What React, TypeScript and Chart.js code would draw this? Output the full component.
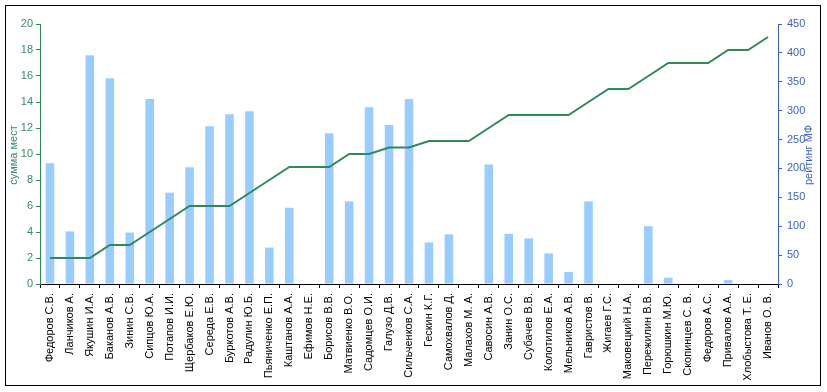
import React, { useEffect, useRef } from "react";
import { Chart, registerables } from "chart.js";
Chart.register(...registerables);

const names: string[] = [
  "Федоров С.В.", "Ланчиков А.", "Якушин И.А.", "Баканов А.В.", "Зинин С.В.",
  "Сипцов Ю.А.", "Потапов И.И.", "Щербаков Е.Ю.", "Середа Е.В.", "Буркотов А.В.",
  "Радулин Ю.Б.", "Пьяниченко Е.П.", "Каштанов А.А.", "Ефимов Н.Е.", "Борисов В.В.",
  "Матвиенко В.О.", "Садомцев О.И.", "Галузо Д.В.", "Сильченков С.А.", "Гескин К.Г.",
  "Самохвалов Д.", "Малахов М. А.", "Савосин А.В.", "Занин О.С.", "Субачев В.В.",
  "Колотилов Е.А.", "Мельников А.В.", "Гавристов В.", "Жигаев Г.С.", "Маковецкий Н.А.",
  "Пережилин В.В.", "Горюшкин М.Ю.", "Скопинцев С. В.", "Федоров А.С.", "Привалов А.А.",
  "Хлобыстова Т. Е.", "Иванов О. В.",
];

const ratingMF: number[] = [
  209, 91, 396, 356, 89, 320, 158, 202, 273, 294, 299, 63, 132, 0, 261, 143, 306, 275, 320,
  72, 86, 0, 207, 87, 79, 53, 21, 143, 0, 0, 100, 11, 0, 0, 7, 0, 0,
];

const sumPlaces: number[] = [
  2, 2, 2, 3, 3, 4, 5, 6, 6, 6, 7, 8, 9, 9, 9, 10, 10, 10.5, 10.5, 11, 11, 11, 12, 13, 13,
  13, 13, 14, 15, 15, 16, 17, 17, 17, 18, 18, 19,
];

const leftTitle = "сумма мест";
const rightTitle = "рейтинг МФ";

const GREEN = "#2E8B57";
const GREEN_TXT = "#3A8A62";
const BLUE = "#3A5FCD";
const BAR = "#99CCFF";
const FONT = "'Liberation Sans', Arial, sans-serif";

export default function App() {
  const ref = useRef<HTMLCanvasElement | null>(null);
  useEffect(() => {
    if (!ref.current) return;
    const framePlugin = {
      id: "frame",
      afterDraw(chart: any) {
        const ctx = chart.ctx;
        const area = chart.chartArea;
        const midY = (area.top + area.bottom) / 2 + 1;
        ctx.save();
        ctx.strokeStyle = "#000";
        ctx.lineWidth = 1;
        ctx.strokeRect(5.5, 5.5, 815, 380);
        ctx.font = `11px ${FONT}`;
        ctx.textAlign = "center";
        ctx.textBaseline = "middle";
        ctx.fillStyle = GREEN_TXT;
        ctx.translate(14, midY);
        ctx.rotate(-Math.PI / 2);
        ctx.fillText(leftTitle, 0, 0);
        ctx.restore();
        ctx.save();
        ctx.font = `11px ${FONT}`;
        ctx.textAlign = "center";
        ctx.textBaseline = "middle";
        ctx.fillStyle = BLUE;
        ctx.translate(809, midY);
        ctx.rotate(-Math.PI / 2);
        ctx.fillText(rightTitle, 0, 0);
        ctx.restore();
      },
    };
    const chart = new Chart(ref.current, {
      type: "bar",
      data: {
        labels: names,
        datasets: [
          {
            type: "line",
            label: leftTitle,
            data: sumPlaces,
            yAxisID: "y",
            borderColor: GREEN,
            backgroundColor: GREEN,
            borderWidth: 2,
            pointRadius: 0,
            tension: 0,
            order: 1,
          } as any,
          {
            type: "bar",
            label: rightTitle,
            data: ratingMF,
            yAxisID: "y1",
            backgroundColor: BAR,
            borderWidth: 0,
            barPercentage: 0.43,
            categoryPercentage: 1,
            order: 2,
          },
        ],
      },
      options: {
        responsive: false,
        animation: false,
        devicePixelRatio: 1,
        layout: { padding: { top: 24, left: 0, right: 0, bottom: 0 } },
        plugins: { legend: { display: false }, tooltip: { enabled: false } },
        scales: {
          x: {
            type: "category",
            grid: {
              offset: true,
              drawOnChartArea: false,
              drawTicks: true,
              tickLength: 4,
              color: "#000",
            },
            border: { color: "#000", width: 1 },
            ticks: {
              autoSkip: false,
              minRotation: 90,
              maxRotation: 90,
              padding: 5,
              color: "#000",
              font: { family: FONT, size: 11 },
            },
            afterFit(scale: any) {
              scale.height = 392 - 284;
            },
          },
          y: {
            position: "left",
            min: 0,
            max: 20,
            ticks: {
              stepSize: 2,
              color: GREEN_TXT,
              padding: 3,
              font: { family: FONT, size: 11 },
            },
            grid: { drawOnChartArea: false, tickLength: 4, color: GREEN },
            border: { color: GREEN, width: 1 },
            afterFit(scale: any) {
              scale.width = 40;
            },
          },
          y1: {
            position: "right",
            min: 0,
            max: 450,
            ticks: {
              stepSize: 50,
              color: BLUE,
              padding: 5,
              font: { family: FONT, size: 11 },
            },
            grid: { drawOnChartArea: false, tickLength: 4, color: BLUE },
            border: { color: BLUE, width: 1 },
            afterFit(scale: any) {
              scale.width = 827 - 778;
            },
          },
        },
      },
      plugins: [framePlugin],
    });
    return () => chart.destroy();
  }, []);
  return (
    <div style={{ position: "absolute", left: 0, top: 0, width: 827, height: 392, background: "#fff" }}>
      <canvas ref={ref} width={827} height={392} style={{ width: 827, height: 392, display: "block" }} />
    </div>
  );
}
